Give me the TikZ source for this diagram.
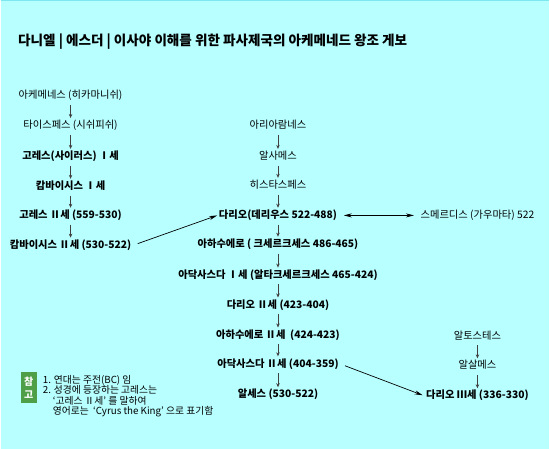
\documentclass[tikz,border=0pt]{standalone}
\usepackage{fontspec}
\setmainfont{Noto Sans CJK KR}
\usetikzlibrary{arrows.meta}

\definecolor{bgcyan}{HTML}{B8FFFF}
\definecolor{topline}{HTML}{7EE6EE}
\definecolor{notegreen}{HTML}{4E9F48}
\definecolor{downgray}{HTML}{404040}

\tikzset{
    person/.style={font=\fontsize{10.3}{12}\selectfont, inner sep=1.5pt,
        text height=8pt, text depth=2pt},
    king/.style={person, font=\fontsize{10.3}{12}\selectfont\bfseries},
    down/.style={-{Stealth[length=4pt,width=3.5pt]}, draw=downgray, line width=0.8pt,
        shorten <=2.5pt, shorten >=1pt},
    link/.style={-{Stealth[length=8pt,width=4pt]}, line width=0.7pt},
    twolink/.style={{Stealth[length=8pt,width=4pt]}-{Stealth[length=8pt,width=4pt]}, line width=0.7pt}
}

\begin{document}
\begin{tikzpicture}[x=1pt,y=-1pt]
        \fill[bgcyan] (0,0) rectangle (550,450);
        \draw[topline, line width=1.5pt] (0,0.75) -- (550,0.75);

        \node[anchor=west, font=\fontsize{13.6}{15}\selectfont\bfseries] (title) at (14,42)
            {다니엘 | 에스더 | 이사야 이해를 위한 파사제국의 아케메네드 왕조 게보};

        % left line
        \node[person] (l1) at (70,96) {아케메네스 (히카마니쉬)};
        \node[person] (l2) at (70,126) {타이스페스 (시쉬피쉬)};
        \node[king] (l3) at (70,157) {고레스(사이러스) Ⅰ세};
        \node[king] (l4) at (70,187) {캄바이시스 Ⅰ세};
        \node[king] (l5) at (70,216) {고레스 Ⅱ세 (559-530)};
        \node[king] (l6) at (70,246) {캄바이시스 Ⅱ세 (530-522)};

        % middle line
        \node[person] (m1) at (278,126) {아리아람네스};
        \node[person] (m2) at (278,157) {알사메스};
        \node[person] (m3) at (278,186) {히스타스페스};
        \node[king] (m4) at (278,216) {다리오(데리우스 522-488)};
        \node[king] (m5) at (278,245) {아하수에로 ( 크세르크세스 486-465)};
        \node[king] (m6) at (278,276) {아닥사스다 Ⅰ세 (알타크세르크세스 465-424)};
        \node[king] (m7) at (278,306) {다리오 Ⅱ세 (423-404)};
        \node[king] (m8) at (278,336) {아하수에로 Ⅱ세 \ (424-423)};
        \node[king] (m9) at (278,365) {아닥사스다 Ⅱ세 (404-359)};
        \node[king] (m10) at (278,396) {알세스 (530-522)};

        % right side
        \node[person] (sm) at (478,216) {스메르디스 (가우마타) 522};
        \node[person] (r1) at (478,337) {알토스테스};
        \node[person] (r2) at (478,367) {알살메스};
        \node[king] (r3) at (478,397) {다리오 Ⅲ세 (336-330)};

        \foreach \a/\b in {l1/l2,l2/l3,l3/l4,l4/l5,l5/l6,
                m1/m2,m2/m3,m3/m4,m4/m5,m5/m6,m6/m7,m7/m8,m8/m9,m9/m10,
                r1/r2,r2/r3}
            \draw[down] (\a) -- (\b);

        \draw[link, shorten <=5pt] (l6.east) -- (m4.west);
        \draw[twolink, shorten <=5pt, shorten >=5pt] (m4.east) -- (sm.west);
        \draw[link, shorten <=5pt, shorten >=2pt] (m9.east) -- (r3.west);

        % note
        \node[fill=notegreen, text=white, font=\fontsize{10}{12.5}\selectfont\bfseries,
            align=center, minimum width=16pt, minimum height=31pt, inner sep=1pt] (ref) at (28,389) {참\\고};
        \node[anchor=north west, align=left, inner sep=0pt,
            font=\fontsize{9.8}{10.4}\selectfont] (notes) at (42,376)
            {1. 연대는 주전(BC) 임\\
             2. 성경에 등장하는 고레스는\\
             \hspace*{10pt}‘고레스 Ⅱ세’ 를 말하여\\
             \hspace*{10pt}영어로는 \ ‘Cyrus the King’ 으로 표기함};
    \end{tikzpicture}
\end{document}
